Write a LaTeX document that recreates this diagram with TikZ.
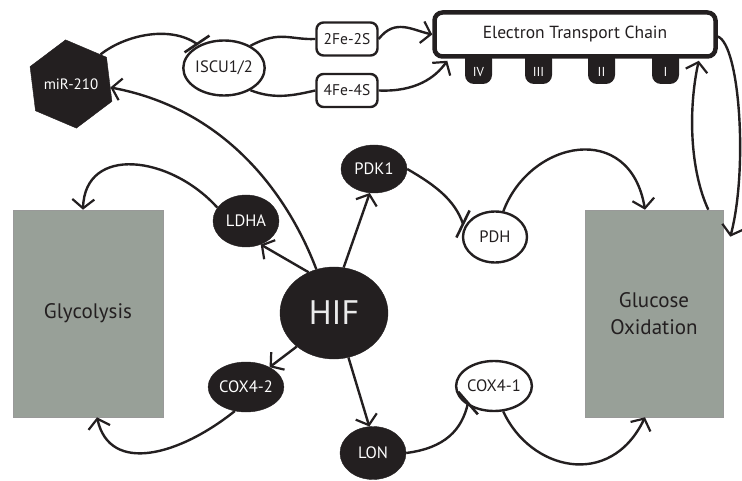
\documentclass[tikz,border=0pt]{standalone}
\usepackage{fontspec}
\setmainfont{PT Sans}
\usetikzlibrary{arrows.meta,shapes.geometric,calc}
\definecolor{ink}{HTML}{231F20}
\definecolor{boxgray}{HTML}{98A098}
\begin{document}
\begin{tikzpicture}[x=1pt,y=-1pt,
  conn/.style={line width=2.4pt, draw=ink},
  act/.style={conn,-{Straight Barb[length=9pt,width=22pt,line width=2.2pt]}},
  inhbar/.style={fill=ink, inner sep=0pt, minimum width=30pt, minimum height=2.6pt, anchor=center},
  blk/.style={ellipse, fill=ink, draw=ink, text=white, inner sep=0pt, minimum width=66pt, minimum height=51pt, font=\fontsize{16.5}{18}\selectfont},
  wht/.style={ellipse, fill=white, draw=ink, line width=2.4pt, text=ink, inner sep=0pt, minimum width=64pt, minimum height=50pt, font=\fontsize{16.5}{18}\selectfont},
  fes/.style={rectangle, rounded corners=7pt, fill=white, draw=ink, line width=2.4pt, text=ink, minimum width=61pt, minimum height=33pt, inner sep=0pt, font=\fontsize{15.5}{17}\selectfont},
  proc/.style={rectangle, fill=boxgray, draw=gray!80, line width=0.6pt, text=ink, inner sep=0pt, font=\fontsize{21}{27}\selectfont, align=center},
  tablabel/.style={text=white, inner sep=0pt, font=\fontsize{13}{15}\selectfont}
]
\useasboundingbox (0,0) rectangle (742,481);

% complex tabs
\foreach \x in {465,525,588,652}{
  \fill[ink, rounded corners=9pt] (\x,50) -- (\x,84) -- (\x+27,84) -- (\x+27,50) -- cycle;
}
\node[tablabel] (t4) at (478.5,72) {IV};
\node[tablabel] (t3) at (538.5,72) {III};
\node[tablabel] (t2) at (601.5,72) {II};
\node[tablabel] (t1) at (665.5,72) {I};

% ETC
\node[rectangle, rounded corners=8pt, fill=white, draw=ink, line width=4.5pt, minimum width=281pt, minimum height=44pt, inner sep=0pt, text=ink, font=\fontsize{17.5}{19}\selectfont] (etc) at (575,34.5) {Electron Transport Chain};

% nodes
\node[regular polygon, regular polygon sides=6, shape border rotate=37, minimum size=74pt, fill=ink, draw=ink, text=white, inner sep=0pt, font=\fontsize{15}{17}\selectfont] (mir) at (71,84) {miR-210};
\node[wht, minimum width=66pt, minimum height=55pt] (iscu) at (224,68) {ISCU1/2};
\node[fes] (fe2) at (347,39) {2Fe-2S};
\node[fes] (fe4) at (347,90.5) {4Fe-4S};

\node[blk, minimum height=48pt] (pdk) at (374,169) {PDK1};
\node[blk, minimum height=52pt] (ldha) at (246,221) {LDHA};
\node[blk, minimum width=108pt, minimum height=92pt, text=white!92!black, font=\fontsize{34}{36}\selectfont] (hif) at (334,313) {HIF};
\node[wht, minimum height=51pt] (pdh) at (495,237) {PDH};
\node[blk, minimum height=50pt] (cox42) at (246,387) {COX4-2};
\node[blk, minimum height=53pt] (lon) at (373,453) {LON};
\node[wht] (cox41) at (494,386) {COX4-1};

\node[proc, minimum width=150pt, minimum height=207pt] (gly) at (88,313.5) {Glycolysis};
\node[proc, minimum width=138pt, minimum height=207pt] (gox) at (654,313.5) {Glucose\\Oxidation};

% inhibition bars
\node[inhbar, rotate=34] (b1) at (197,44) {};
\node[inhbar, rotate=64] (b2) at (463,224) {};
\node[inhbar, rotate=-49] (b3) at (468,403) {};

% connectors top
\draw[conn] (mir.45) .. controls (125,35) and (170,25) .. (b1.center);
\draw[conn] (iscu.40) .. controls (280,30) and (290,40) .. (fe2.west);
\draw[conn] (iscu.-40) .. controls (275,100) and (295,95) .. (fe4.west);
\draw[act] (fe2.east) .. controls (395,18) and (412,30) .. (etc.west);
\coordinate (etcin) at ($(etc.south west)+(15,2)$);
\draw[act] (fe4.east) .. controls (415,92) and (435,78) .. (etcin);
\coordinate (etcout) at ($(etc.south east)+(-19,2)$);
\draw[act] ($(gox.north east)+(-15,0)$) .. controls (690,170) and (688,110) .. (etcout);
\coordinate (goxin) at ($(gox.north east)+(7,27)$);
\draw[act] ($(etc.east)+(0,2)$) .. controls (740,45) and (748,170) .. (goxin);

% HIF
\draw[act] (hif.112) .. controls (290,200) and (230,110) .. (mir.-5);
\draw[act] (hif.122) -- (ldha.-58);
\draw[act] (hif.78) -- (pdk.-100);
\draw[act] (hif.-138) -- (cox42.40);
\draw[act] (hif.-72) -- (lon.98);

% glycolysis
\draw[act] (ldha.155) .. controls (170,155) and (85,145) .. ($(gly.north)+(-5,0)$);
\draw[act] (cox42.-115) .. controls (180,455) and (110,475) .. ($(gly.south)+(9,0)$);

% glucose oxidation
\draw[conn] (pdk.east) .. controls (435,185) and (455,200) .. (b2.center);
\draw[act] (pdh.72) .. controls (530,140) and (630,120) .. ($(gox.north)+(-9,0)$);
\draw[conn] (lon.east) .. controls (445,448) and (462,430) .. (b3.center);
\draw[act] (cox41.-70) .. controls (530,470) and (610,490) .. ($(gox.south)+(-9,0)$);
\end{tikzpicture}
\end{document}
